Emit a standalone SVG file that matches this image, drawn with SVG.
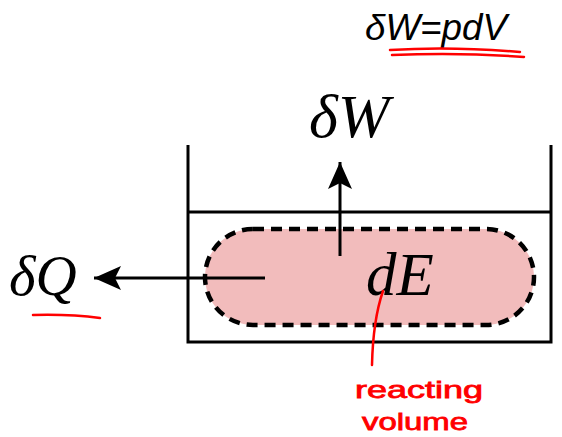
<svg xmlns="http://www.w3.org/2000/svg" width="562" height="437" viewBox="0 0 562 437">
<style>
.wall{stroke:#000;stroke-width:3;fill:none}
.math{font-family:"Liberation Serif","Times New Roman",serif;font-style:italic;fill:#000}
.red{stroke:#f00;stroke-width:2.5;fill:none;stroke-linecap:round}
.hand{font-family:"Liberation Sans",Arial,sans-serif;fill:#f00;stroke:#f00;stroke-width:0.8}
.formula{font-family:"Liberation Sans",Arial,sans-serif;font-style:italic;fill:#000}
</style>
<defs>
<marker id="ah" markerWidth="30" markerHeight="26" refX="27" refY="12" orient="auto" markerUnits="userSpaceOnUse">
<path d="M0,0 L27,12 L0,24 L6,12 Z" fill="#000"/>
</marker>
</defs>
<rect width="562" height="437" fill="#fff"/>
<g id="container">
<path class="wall" d="M188,145 V342 H551 V145"/>
<line class="wall" x1="188" y1="212" x2="551" y2="212"/>
</g>
<g id="volume">
<rect x="205" y="229" width="329" height="96" rx="48" ry="48" fill="#f2bcbc" stroke="#000" stroke-width="4.5" stroke-dasharray="11,7"/>
<text class="math" x="366" y="295" font-size="61">dE</text>
</g>
<g id="connectors">
<line x1="340" y1="256" x2="340" y2="162" stroke="#000" stroke-width="3" marker-end="url(#ah)"/>
<line x1="265" y1="278" x2="94" y2="278" stroke="#000" stroke-width="3" marker-end="url(#ah)"/>
</g>
<g id="dW">
<text class="math" x="309" y="137" font-size="62">δW</text>
</g>
<g id="dQ">
<text class="math" x="9" y="295" font-size="57">δQ</text>
</g>
<g id="formula">
<text class="formula" x="365" y="40" font-size="36" textLength="142" lengthAdjust="spacingAndGlyphs">δW=pdV</text>
</g>
<g id="annotations">
<path class="red" d="M390,50 Q450,46 520,52"/>
<path class="red" d="M392,55 Q460,52 524,57"/>
<path class="red" d="M33,315 Q70,314 100,318"/>
<path class="red" d="M383,291 Q373,320 372,365"/>
<text class="hand" x="355" y="398" font-size="24" textLength="128" lengthAdjust="spacingAndGlyphs">reacting</text>
<text class="hand" x="362" y="430" font-size="24" textLength="106" lengthAdjust="spacingAndGlyphs">volume</text>
</g>
</svg>
